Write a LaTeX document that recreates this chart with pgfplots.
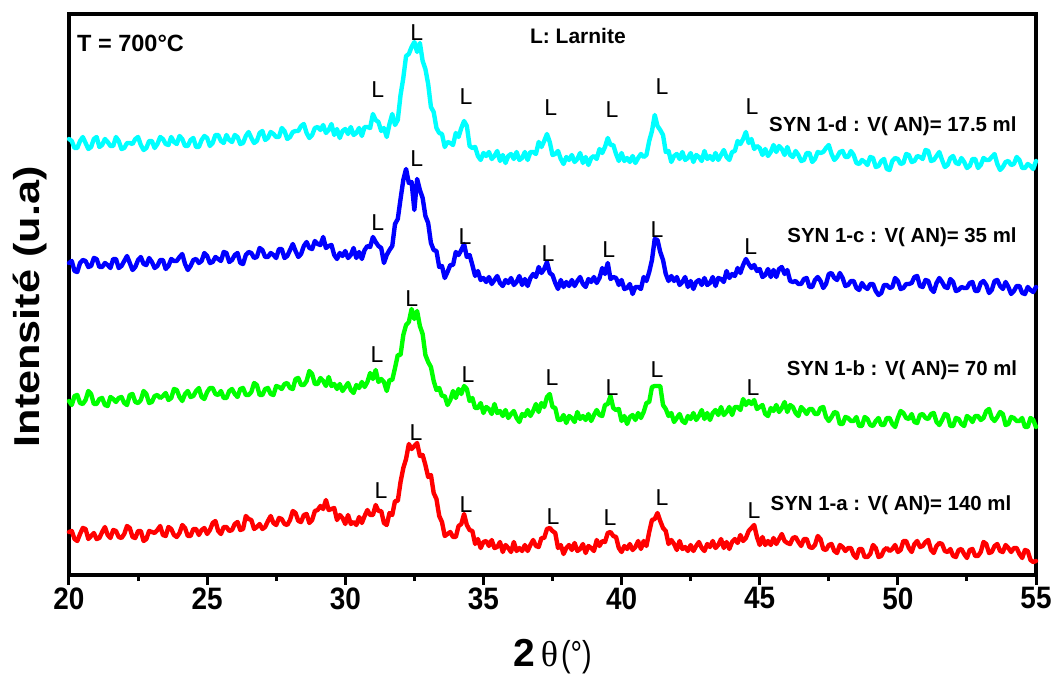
\documentclass[border=0pt]{standalone}
\usepackage{fontspec}
\setmainfont{Liberation Sans}
\newfontfamily\serifgreek{Liberation Serif}
\usepackage{graphicx}
\usepackage{pgfplots}
\usepackage{pgfplotstable}
\pgfplotsset{compat=1.18}

\definecolor{aqua}{RGB}{0,255,255}
\definecolor{pureblue}{RGB}{0,0,255}
\definecolor{puregreen}{RGB}{0,255,0}
\definecolor{purered}{RGB}{255,0,0}

\tikzset{
  Lmark/.style={font=\fontsize{23bp}{24bp}\selectfont, inner sep=0pt},
  tag/.style={font=\fontsize{20.4bp}{22bp}\selectfont\bfseries, inner sep=0pt},
}

% XRD patterns, offset vertically: a = 140 ml, b = 70 ml, c = 35 ml, d = 17.5 ml
\pgfplotstableread{
x a b c d
20.0 43 174 312 436
20.1 44 170 314 434
20.2 36 179 304 427
20.3 34 180 303 427
20.4 41 172 312 434
20.5 47 171 315 438
20.6 46 175 314 432
20.7 36 184 308 426
20.8 39 181 309 428
20.9 42 171 317 436
21.0 36 171 316 438
21.1 37 176 308 428
21.2 43 177 308 430
21.3 48 170 312 436
21.4 40 169 310 433
21.5 37 178 307 429
21.6 45 176 316 429
21.7 44 173 316 438
21.8 38 177 307 434
21.9 37 178 309 426
22.0 41 172 314 427
22.1 49 170 319 432
22.2 47 180 312 432
22.3 38 181 305 431
22.4 37 173 308 436
22.5 44 172 315 438
22.6 44 175 318 430
22.7 34 184 311 425
22.8 36 181 310 427
22.9 44 172 317 434
23.0 43 173 313 434
23.1 42 179 307 427
23.2 45 180 309 431
23.3 49 177 315 438
23.4 40 179 315 436
23.5 39 182 306 431
23.6 48 175 309 430
23.7 46 177 316 438
23.8 40 186 314 433
23.9 38 185 314 431
24.0 42 178 318 439
24.1 50 174 321 436
24.2 47 181 311 429
24.3 39 184 305 429
24.4 39 178 309 435
24.5 46 179 315 437
24.6 46 184 316 428
24.7 40 187 312 428
24.8 45 178 314 435
24.9 47 176 322 439
25.0 41 183 319 437
25.1 45 187 312 429
25.2 52 187 313 432
25.3 54 181 318 440
25.4 44 180 316 440
25.5 41 184 314 434
25.6 48 177 323 432
25.7 48 177 322 440
25.8 44 184 313 435
25.9 45 186 315 433
26.0 51 181 320 440
26.1 53 178 322 438
26.2 45 186 312 431
26.3 46 187 311 432
26.4 59 180 320 439
26.5 56 180 323 443
26.6 55 183 322 437
26.7 46 192 317 432
26.8 48 190 318 434
26.9 51 180 327 442
27.0 46 180 325 444
27.1 48 186 318 435
27.2 54 187 318 437
27.3 59 181 322 443
27.4 52 180 320 441
27.5 50 189 317 438
27.6 57 188 326 438
27.7 56 186 326 447
27.8 51 191 317 444
27.9 50 192 319 436
28.0 55 187 325 438
28.1 64 186 331 443
28.2 62 196 324 444
28.3 54 197 318 444
28.4 53 190 321 449
28.5 60 190 329 451
28.6 61 194 333 442
28.7 52 204 327 437
28.8 55 201 326 440
28.9 64 191 334 447
29.0 65 191 331 448
29.1 69 197 330 445
29.2 66 194 338 450
29.3 75 189 327 442
29.4 65 198 329 445
29.5 66 189 330 451
29.6 67 191 320 440
29.7 55 186 316 446
29.8 60 191 322 437
29.9 57 184 319 444
30.0 51 188 324 446
30.1 60 192 317 441
30.2 51 185 320 448
30.3 53 182 327 440
30.4 50 190 317 442
30.5 58 187 323 447
30.6 52 193 316 439
30.7 59 188 325 448
30.8 65 193 329 448
30.9 60 202 328 447
31.0 60 196 338 461
31.1 70 205 333 455
31.2 64 193 329 453
31.3 64 196 327 444
31.4 52 193 312 447
31.5 50 184 320 438
31.6 62 195 325 451
31.7 60 195 329 461
31.8 74 207 351 450
31.9 74 220 356 455
32.0 93 220 376 480
32.1 107 240 395 497
32.2 116 250 406 519
32.3 131 253 392 521
32.4 126 266 393 528
32.5 129 256 365 533
32.6 132 264 396 523
32.7 119 249 385 532
32.8 120 241 377 514
32.9 110 220 359 506
33.0 98 213 352 491
33.1 100 208 332 468
33.2 82 194 325 463
33.3 76 185 324 447
33.4 59 187 308 442
33.5 53 179 309 441
33.6 39 179 297 428
33.7 41 170 303 433
33.8 43 175 310 432
33.9 38 184 310 430
34.0 38 177 323 442
34.1 49 186 320 438
34.2 51 181 325 447
34.3 61 189 331 454
34.4 50 186 318 449
34.5 45 174 320 429
34.6 44 177 310 427
34.7 31 167 299 428
34.8 36 167 304 419
34.9 27 172 295 415
35.0 33 162 297 422
35.1 34 168 293 419
35.2 29 166 298 423
35.3 35 161 291 416
35.4 27 171 295 419
35.5 28 162 299 424
35.6 33 164 292 414
35.7 23 159 289 420
35.8 30 165 295 412
35.9 27 157 292 419
36.0 23 161 297 421
36.1 33 164 290 416
36.2 24 157 293 423
36.3 27 153 299 415
36.4 24 161 290 417
36.5 30 159 296 423
36.6 24 165 289 415
36.7 30 159 297 423
36.8 35 164 301 423
36.9 29 171 298 421
37.0 28 163 308 433
37.1 37 172 302 428
37.2 37 168 306 434
37.3 46 178 313 441
37.4 47 181 302 433
37.5 44 168 300 420
37.6 42 167 292 421
37.7 27 155 286 424
37.8 30 155 295 416
37.9 21 160 288 411
38.0 27 152 293 418
38.1 30 159 289 415
38.2 25 157 295 420
38.3 32 153 289 413
38.4 24 163 294 416
38.5 26 156 298 422
38.6 31 159 291 412
38.7 22 155 288 418
38.8 29 161 296 410
38.9 27 154 293 417
39.0 24 160 298 419
39.1 35 165 292 416
39.2 29 160 297 426
39.3 34 159 307 422
39.4 33 170 301 428
39.5 42 171 312 437
39.6 43 179 296 430
39.7 39 167 298 430
39.8 38 165 297 421
39.9 27 166 290 414
40.0 23 154 295 422
40.1 29 159 286 414
40.2 26 151 287 417
40.3 31 158 291 413
40.4 25 160 281 419
40.5 28 155 288 412
40.6 34 162 288 417
40.7 26 157 286 421
40.8 34 163 298 418
40.9 29 172 294 420
41.0 43 173 303 434
41.1 55 188 315 444
41.2 56 189 336 460
41.3 62 189 335 449
41.4 54 189 323 445
41.5 47 170 315 440
41.6 44 166 301 423
41.7 31 159 294 424
41.8 35 162 299 413
41.9 31 153 294 419
42.0 25 157 298 421
42.1 34 161 290 416
42.2 26 154 293 423
42.3 28 152 298 415
42.4 24 159 288 417
42.5 30 156 294 422
42.6 24 162 286 413
42.7 29 155 293 420
42.8 33 159 295 418
42.9 27 165 290 414
43.0 24 156 297 424
43.1 31 162 290 416
43.2 28 155 292 419
43.3 34 162 298 415
43.4 27 165 289 422
43.5 30 160 297 415
43.6 36 168 296 420
43.7 27 160 293 425
43.8 33 163 304 418
43.9 26 168 297 415
44.0 33 160 301 423
44.1 36 168 299 424
44.2 32 168 307 434
44.3 40 165 302 431
44.4 34 176 310 436
44.5 37 170 316 443
44.6 44 174 311 432
44.7 47 171 307 436
44.8 50 175 310 426
44.9 38 166 304 429
45.0 30 168 306 427
45.1 38 170 298 420
45.2 30 161 300 426
45.3 34 159 306 419
45.4 30 167 298 423
45.5 37 164 305 430
45.6 31 170 298 423
45.7 36 163 306 429
45.8 41 167 308 426
45.9 34 173 301 420
46.0 32 163 305 428
46.1 31 170 294 420
46.2 37 168 293 418
46.3 38 162 294 424
46.4 33 159 291 420
46.5 29 168 291 414
46.6 36 165 296 415
46.7 36 161 297 422
46.8 28 166 288 422
46.9 27 166 288 413
47.0 30 161 295 416
47.1 39 161 298 423
47.2 36 167 294 422
47.3 26 168 287 423
47.4 25 158 291 427
47.5 30 154 301 430
47.6 31 158 302 421
47.7 24 163 297 415
47.8 22 162 295 418
47.9 30 151 302 423
48.0 28 151 297 424
48.1 24 158 289 418
48.2 27 157 290 418
48.3 27 154 294 424
48.4 20 154 294 420
48.5 17 158 287 412
48.6 26 149 285 411
48.7 26 149 292 415
48.8 18 158 288 413
48.9 18 156 286 410
49.0 21 150 291 418
49.1 30 149 291 417
49.2 27 154 284 408
49.3 18 157 280 409
49.4 19 150 282 414
49.5 25 150 290 416
49.6 27 157 290 406
49.7 24 157 287 405
49.8 26 151 288 414
49.9 30 148 297 417
50.0 23 157 294 416
50.1 25 164 286 411
50.2 34 162 287 412
50.3 34 157 291 421
50.4 27 156 291 420
50.5 23 161 292 413
50.6 31 153 298 414
50.7 34 152 299 419
50.8 28 160 289 418
50.9 29 161 288 416
51.0 33 157 295 425
51.1 35 156 294 424
51.2 25 161 286 414
51.3 22 162 283 415
51.4 29 153 292 419
51.5 32 150 297 423
51.6 31 155 293 415
51.7 24 161 288 408
51.8 23 160 287 410
51.9 26 149 296 417
52.0 19 149 293 419
52.1 18 157 284 412
52.2 25 156 285 411
52.3 26 151 288 417
52.4 21 149 287 413
52.5 17 159 287 407
52.6 25 157 292 409
52.7 26 153 293 416
52.8 19 159 284 416
52.9 19 159 284 407
53.0 23 155 292 410
53.1 33 157 294 417
53.2 31 164 290 415
53.3 22 166 282 415
53.4 23 157 285 418
53.5 29 154 294 421
53.6 31 158 295 411
53.7 24 163 289 405
53.8 23 161 286 408
53.9 30 150 293 413
54.0 27 151 288 414
54.1 23 158 281 410
54.2 27 157 284 411
54.3 27 154 289 418
54.4 21 154 289 415
54.5 17 157 282 407
54.6 25 148 281 407
54.7 24 148 288 411
54.8 15 157 285 409
54.9 13 155 283 406
55.0 14 148 288 414
}\xrd

\begin{document}
\begin{tikzpicture}
\begin{axis}[
  at={(0,0)}, anchor=south west,
  width=967bp, height=561bp, scale only axis,
  xmin=20, xmax=55, ymin=0, ymax=561,
  ytick=\empty,
  xtick={20,25,...,55},
  minor x tick num=1,
  xtick pos=bottom,
  tick align=outside,
  major tick length=10bp, minor tick length=6bp,
  axis line style={line width=4bp, line cap=rect},
  every tick/.style={black, line width=3bp},
  /pgf/number format/assume math mode=true,
  xticklabel={\scalebox{0.9}[1]{\pgfmathprintnumber{\tick}}},
  xticklabel style={font=\fontsize{31bp}{32bp}\selectfont\bfseries, yshift=1bp},
  xlabel={{\fontsize{39bp}{40bp}\selectfont\bfseries 2}\hspace{6bp}{\fontsize{36bp}{38bp}\selectfont\serifgreek θ}\hspace{3bp}{\fontsize{36bp}{40bp}\selectfont\scalebox{0.8}[1]{(°)}}},
  xlabel style={at={(axis description cs:0.5,-0.146)}, anchor=center},
  ylabel={\scalebox{1.2}[1]{Intensité (u.a)}},
  ylabel style={at={(axis description cs:-0.040,0.478)}, anchor=center,
    font=\fontsize{36bp}{40bp}\selectfont\bfseries},
  every axis plot/.append style={line width=4.4bp, line join=round, line cap=round, no markers},
  clip=false,
]
\addplot[purered]   table[x=x, y=a] {\xrd};
\addplot[puregreen] table[x=x, y=b] {\xrd};
\addplot[pureblue]  table[x=x, y=c] {\xrd};
\addplot[aqua]      table[x=x, y=d] {\xrd};

% Larnite reflections, SYN 1-d
\node[Lmark] at (axis cs:31.18,485) {L};
\node[Lmark] at (axis cs:32.59,542) {L};
\node[Lmark] at (axis cs:34.37,478) {L};
\node[Lmark] at (axis cs:37.44,467) {L};
\node[Lmark] at (axis cs:39.65,465) {L};
\node[Lmark] at (axis cs:41.46,488) {L};
\node[Lmark] at (axis cs:44.72,468) {L};
% SYN 1-c
\node[Lmark] at (axis cs:31.18,352) {L};
\node[Lmark] at (axis cs:32.59,416) {L};
\node[Lmark] at (axis cs:34.33,338) {L};
\node[Lmark] at (axis cs:37.34,321) {L};
\node[Lmark] at (axis cs:39.54,325) {L};
\node[Lmark] at (axis cs:41.28,345) {L};
\node[Lmark] at (axis cs:44.68,328) {L};
% SYN 1-b
\node[Lmark] at (axis cs:31.15,220) {L};
\node[Lmark] at (axis cs:32.41,276) {L};
\node[Lmark] at (axis cs:34.44,200) {L};
\node[Lmark] at (axis cs:37.48,197) {L};
\node[Lmark] at (axis cs:39.65,187) {L};
\node[Lmark] at (axis cs:41.28,205) {L};
\node[Lmark] at (axis cs:44.76,187) {L};
% SYN 1-a
\node[Lmark] at (axis cs:31.29,84) {L};
\node[Lmark] at (axis cs:32.56,142) {L};
\node[Lmark] at (axis cs:34.37,70) {L};
\node[Lmark] at (axis cs:37.52,58) {L};
\node[Lmark] at (axis cs:39.58,57) {L};
\node[Lmark] at (axis cs:41.46,77) {L};
\node[Lmark] at (axis cs:44.79,64) {L};

\node[anchor=west, font=\fontsize{23.5bp}{25bp}\selectfont\bfseries, inner sep=0pt]
  at (axis cs:20.29,532) {T = 700°C};
\node[font=\fontsize{21bp}{23bp}\selectfont\bfseries, inner sep=0pt]
  at (axis cs:38.42,539) {L: Larnite};

\node[tag] at (axis cs:49.82,449) {SYN 1-d : V( AN)= 17.5 ml};
\node[tag] at (axis cs:50.15,338) {SYN 1-c : V( AN)= 35 ml};
\node[tag] at (axis cs:50.15,205) {SYN 1-b : V( AN)= 70 ml};
\node[tag] at (axis cs:49.75,70)  {SYN 1-a : V( AN)= 140 ml};
\end{axis}

\pgfresetboundingbox
\path[use as bounding box] (-69bp,-103bp) rectangle (992bp,575bp);
\end{tikzpicture}
\end{document}
